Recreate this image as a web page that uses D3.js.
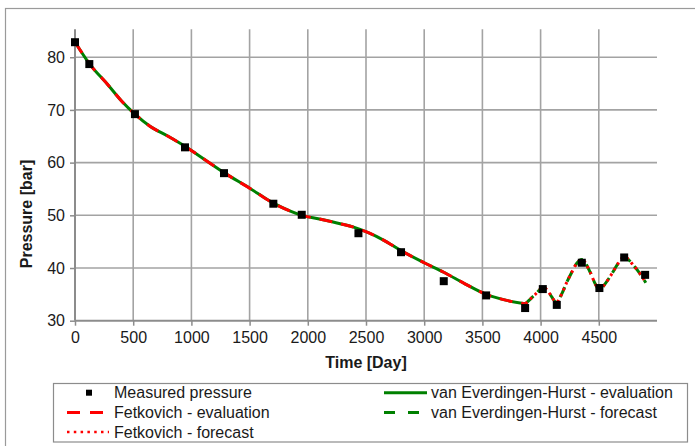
<!DOCTYPE html>
<html><head><meta charset="utf-8">
<script src="https://cdn.jsdelivr.net/npm/d3@7/dist/d3.min.js"></script>
<style>
html,body{margin:0;padding:0;background:#fff;}
svg{display:block;font-family:"Liberation Sans",Arial,sans-serif;}
</style></head><body>
<svg id="chart" width="695" height="446"></svg>
<script>
// Measured pressure
const measDays = [0, 123, 515, 945, 1280, 1704, 1948, 2435, 2801, 3168, 3532, 3867, 4019, 4139, 4354, 4505, 4718, 4898];
const measBar  = [82.85, 78.7, 69.2, 62.9, 58.0, 52.2, 50.1, 46.6, 43.0, 37.5, 34.8, 32.4, 36.0, 33.0, 41.0, 36.2, 42.0, 38.7];
// Evaluation curve (both models coincide)
const evalDays = [0, 123, 286, 400, 515, 644, 800, 945, 1100, 1280, 1504, 1704, 1850, 1948, 2100, 2278, 2400, 2520, 2650, 2801, 3000, 3168, 3350, 3532, 3700, 3870];
const evalBar  = [82.9, 78.8, 74.7, 71.7, 69.2, 66.9, 65.0, 63.1, 60.8, 58.1, 55.1, 52.3, 50.8, 50.0, 49.3, 48.4, 47.7, 46.7, 45.3, 43.3, 41.0, 39.2, 37.0, 35.0, 33.9, 33.2];
// Forecast curve
const fcDays = [3870, 3950, 4025, 4067, 4096, 4135, 4182, 4225, 4268, 4311, 4354, 4426, 4469, 4505, 4554, 4612, 4655, 4718, 4798, 4855, 4904];
const fcBar  = [33.2, 34.9, 36.3, 35.5, 34.5, 33.5, 35.1, 37.3, 39.2, 40.9, 41.6, 39.2, 37.0, 35.8, 37.0, 38.9, 40.5, 42.1, 40.5, 38.9, 37.2];
const xTicks = [0, 500, 1000, 1500, 2000, 2500, 3000, 3500, 4000, 4500];
const yTicks = [30, 40, 50, 60, 70, 80];
const legendLeft = ["Measured pressure", "Fetkovich - evaluation", "Fetkovich - forecast"];
const legendRight = ["van Everdingen-Hurst - evaluation", "van Everdingen-Hurst - forecast"];

const svg = d3.select("#chart");
const RED = "#ff0000", GREEN = "#008000", GRID = "#a3a3a3", AXIS = "#8c8c8c";
const x = d3.scaleLinear().domain([0, 5000]).range([75, 657]);
const y = d3.scaleLinear().domain([30, 85.3]).range([320.7, 29.3]);

// outer frame
svg.append("rect").attr("x", 5.5).attr("y", 8.5).attr("width", 720).attr("height", 460)
  .attr("fill", "none").attr("stroke", "#9a9a9a").attr("stroke-width", 1.2);

// grid
svg.append("g").selectAll("line").data(xTicks.slice(1)).join("line")
  .attr("x1", d => x(d)).attr("x2", d => x(d)).attr("y1", y.range()[1]).attr("y2", y(30))
  .attr("stroke", GRID).attr("stroke-width", 1.6);
svg.append("g").selectAll("line").data(yTicks.slice(1)).join("line")
  .attr("x1", x(0)).attr("x2", x(5000)).attr("y1", d => y(d)).attr("y2", d => y(d))
  .attr("stroke", GRID).attr("stroke-width", 1.6);

// axes
const xAxis = svg.append("g").attr("transform", `translate(0,${y(30)})`)
  .call(d3.axisBottom(x).tickValues(xTicks).tickSize(5).tickSizeOuter(0).tickPadding(6).tickFormat(d3.format("d")));
const yAxis = svg.append("g").attr("transform", `translate(${x(0)},0)`)
  .call(d3.axisLeft(y).tickValues(yTicks).tickSize(5).tickSizeOuter(0).tickPadding(5));
[xAxis, yAxis].forEach(g => {
  g.select(".domain").attr("stroke", AXIS).attr("stroke-width", 2);
  g.selectAll(".tick line").attr("stroke", AXIS).attr("stroke-width", 1.5);
  g.selectAll(".tick text").attr("font-size", 16).attr("fill", "#1a1a1a")
    .attr("font-family", "'Liberation Sans',Arial,sans-serif");
});
xAxis.select(".domain").attr("d", `M${x(0)},0H${x(5000)}`);
yAxis.select(".domain").attr("d", `M0,${y(30)}V${y.range()[1]}`);

// axis titles
svg.append("text").attr("x", 366).attr("y", 368).attr("text-anchor", "middle")
  .attr("font-size", 16).attr("font-weight", "bold").attr("fill", "#1a1a1a").text("Time [Day]");
svg.append("text").attr("transform", "translate(32,214) rotate(-90)").attr("text-anchor", "middle")
  .attr("font-size", 16).attr("font-weight", "bold").attr("fill", "#1a1a1a").text("Pressure [bar]");

const line = d3.line().x(d => x(d[0])).y(d => y(d[1])).curve(d3.curveMonotoneX);
const evalData = evalDays.map((d, i) => [d, evalBar[i]]);
const fcData = fcDays.map((d, i) => [d, fcBar[i]]);

svg.append("path").datum(evalData).attr("d", line).attr("fill", "none")
  .attr("stroke", GREEN).attr("stroke-width", 3);
svg.append("path").datum(evalData).attr("d", line).attr("fill", "none")
  .attr("stroke", RED).attr("stroke-width", 3).attr("stroke-dasharray", "13,9");
svg.append("path").datum(fcData).attr("d", line).attr("fill", "none")
  .attr("stroke", GREEN).attr("stroke-width", 3).attr("stroke-dasharray", "11,6");
svg.append("path").datum(fcData).attr("d", line).attr("fill", "none")
  .attr("stroke", RED).attr("stroke-width", 3).attr("stroke-dasharray", "2.5,4");

// markers
svg.append("g").selectAll("rect").data(measDays.map((d, i) => [d, measBar[i]])).join("rect")
  .attr("x", d => x(d[0]) - 4).attr("y", d => y(d[1]) - 4).attr("width", 8).attr("height", 8)
  .attr("fill", "#000");

// legend
const lg = svg.append("g");
lg.append("rect").attr("x", 53.5).attr("y", 383.5).attr("width", 634).attr("height", 58.5)
  .attr("fill", "#fff").attr("stroke", "#8c8c8c").attr("stroke-width", 1.2);
const rowY = [392.7, 412.5, 432];
lg.append("rect").attr("x", 86).attr("y", rowY[0] - 3).attr("width", 6).attr("height", 6).attr("fill", "#000");
lg.append("line").attr("x1", 67).attr("x2", 103).attr("y1", rowY[1]).attr("y2", rowY[1])
  .attr("stroke", RED).attr("stroke-width", 3).attr("stroke-dasharray", "13,10");
lg.append("line").attr("x1", 67).attr("x2", 109).attr("y1", rowY[2]).attr("y2", rowY[2])
  .attr("stroke", RED).attr("stroke-width", 2.5).attr("stroke-dasharray", "2.5,4.3");
lg.append("line").attr("x1", 384).attr("x2", 427).attr("y1", rowY[0]).attr("y2", rowY[0])
  .attr("stroke", GREEN).attr("stroke-width", 3);
lg.append("line").attr("x1", 384).attr("x2", 420).attr("y1", rowY[1]).attr("y2", rowY[1])
  .attr("stroke", GREEN).attr("stroke-width", 3).attr("stroke-dasharray", "11,13");
lg.selectAll("text.l").data(legendLeft).join("text").attr("class", "l")
  .attr("x", 114).attr("y", (d, i) => rowY[i]).attr("dy", "0.35em")
  .attr("font-size", 16).attr("fill", "#1a1a1a").text(d => d);
lg.selectAll("text.r").data(legendRight).join("text").attr("class", "r")
  .attr("x", 431).attr("y", (d, i) => rowY[i]).attr("dy", "0.35em")
  .attr("font-size", 16).attr("fill", "#1a1a1a").text(d => d);
</script>
</body></html>
